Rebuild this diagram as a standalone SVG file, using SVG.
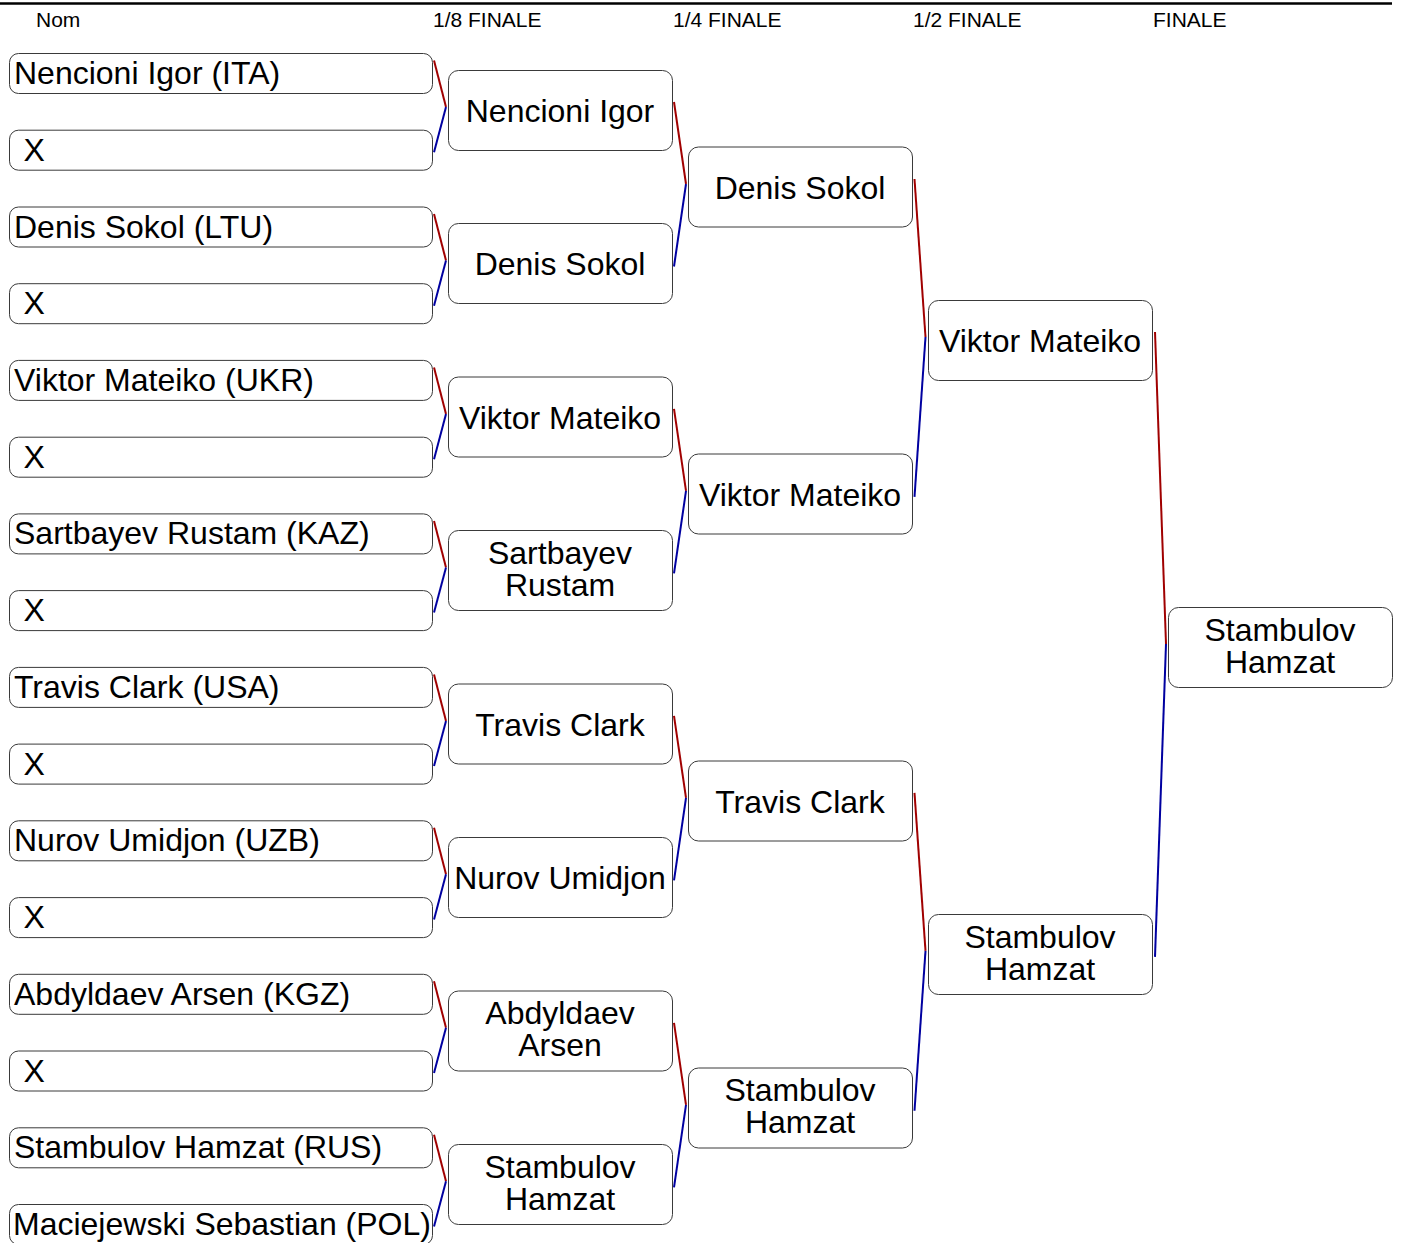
<svg xmlns="http://www.w3.org/2000/svg" width="1407" height="1243" viewBox="0 0 1407 1243">
<style>
.bg{fill:#ffffff}
.hdr{font-family:"Liberation Sans",Arial,sans-serif;font-size:21px;fill:#000}
.b0{fill:#fff;stroke:#3a3a3a;stroke-width:1}
.b1{fill:#fff;stroke:#3a3a3a;stroke-width:1}
.t0{font-family:"Liberation Sans",Arial,sans-serif;font-size:32px;fill:#000}
.t1{font-family:"Liberation Sans",Arial,sans-serif;font-size:32px;fill:#000;text-anchor:middle}
.r{stroke:#a00000;stroke-width:2;fill:none}
.u{stroke:#0000a0;stroke-width:2;fill:none}
</style>
<rect class="bg" x="0" y="0" width="1407" height="1243"/>
<line x1="0" y1="3.5" x2="1392" y2="3.5" stroke="#000" stroke-width="2.5"/>
<g id="headers">
<text class="hdr" x="36" y="26.5">Nom</text>
<text class="hdr" x="433" y="26.5">1/8 FINALE</text>
<text class="hdr" x="673" y="26.5">1/4 FINALE</text>
<text class="hdr" x="913" y="26.5">1/2 FINALE</text>
<text class="hdr" x="1153" y="26.5">FINALE</text>
</g>
<g id="connectors">
<polyline class="r" points="434,60.5 446,107"/><polyline class="u" points="446,107 434,152.2"/>
<polyline class="r" points="434,214 446,260.5"/><polyline class="u" points="446,260.5 434,305.7"/>
<polyline class="r" points="434,367.4 446,413.9"/><polyline class="u" points="446,413.9 434,459.2"/>
<polyline class="r" points="434,520.9 446,567.4"/><polyline class="u" points="446,567.4 434,612.6"/>
<polyline class="r" points="434,674.4 446,720.9"/><polyline class="u" points="446,720.9 434,766.1"/>
<polyline class="r" points="434,827.8 446,874.3"/><polyline class="u" points="446,874.3 434,919.6"/>
<polyline class="r" points="434,981.3 446,1027.8"/><polyline class="u" points="446,1027.8 434,1073"/>
<polyline class="r" points="434,1134.8 446,1181.3"/><polyline class="u" points="446,1181.3 434,1226.5"/>
<polyline class="r" points="674,102 686,184"/><polyline class="u" points="686,184 674,266.5"/>
<polyline class="r" points="674,408.9 686,490.9"/><polyline class="u" points="686,490.9 674,573.4"/>
<polyline class="r" points="674,715.9 686,797.9"/><polyline class="u" points="686,797.9 674,880.4"/>
<polyline class="r" points="674,1022.8 686,1104.8"/><polyline class="u" points="686,1104.8 674,1187.3"/>
<polyline class="r" points="914.5,179 925.5,337"/><polyline class="u" points="925.5,337 914.5,496.9"/>
<polyline class="r" points="914.5,792.9 925.5,950.9"/><polyline class="u" points="925.5,950.9 914.5,1110.8"/>
<polyline class="r" points="1155,332 1166,644"/><polyline class="u" points="1166,644 1155,956.9"/>
</g>
<g id="r0-0"><rect class="b0" x="9.5" y="53.5" width="423" height="40" rx="9"/><text class="t0" x="14" y="84">Nencioni Igor (ITA)</text></g>
<g id="r0-1"><rect class="b0" x="9.5" y="130.2" width="423" height="40" rx="9"/><text class="t0" x="23.5" y="160.7">X</text></g>
<g id="r0-2"><rect class="b0" x="9.5" y="207" width="423" height="40" rx="9"/><text class="t0" x="14" y="237.5">Denis Sokol (LTU)</text></g>
<g id="r0-3"><rect class="b0" x="9.5" y="283.7" width="423" height="40" rx="9"/><text class="t0" x="23.5" y="314.2">X</text></g>
<g id="r0-4"><rect class="b0" x="9.5" y="360.4" width="423" height="40" rx="9"/><text class="t0" x="14" y="390.9">Viktor Mateiko (UKR)</text></g>
<g id="r0-5"><rect class="b0" x="9.5" y="437.2" width="423" height="40" rx="9"/><text class="t0" x="23.5" y="467.7">X</text></g>
<g id="r0-6"><rect class="b0" x="9.5" y="513.9" width="423" height="40" rx="9"/><text class="t0" x="14" y="544.4">Sartbayev Rustam (KAZ)</text></g>
<g id="r0-7"><rect class="b0" x="9.5" y="590.6" width="423" height="40" rx="9"/><text class="t0" x="23.5" y="621.1">X</text></g>
<g id="r0-8"><rect class="b0" x="9.5" y="667.4" width="423" height="40" rx="9"/><text class="t0" x="14" y="697.9">Travis Clark (USA)</text></g>
<g id="r0-9"><rect class="b0" x="9.5" y="744.1" width="423" height="40" rx="9"/><text class="t0" x="23.5" y="774.6">X</text></g>
<g id="r0-10"><rect class="b0" x="9.5" y="820.8" width="423" height="40" rx="9"/><text class="t0" x="14" y="851.3">Nurov Umidjon (UZB)</text></g>
<g id="r0-11"><rect class="b0" x="9.5" y="897.6" width="423" height="40" rx="9"/><text class="t0" x="23.5" y="928.1">X</text></g>
<g id="r0-12"><rect class="b0" x="9.5" y="974.3" width="423" height="40" rx="9"/><text class="t0" x="14" y="1004.8">Abdyldaev Arsen (KGZ)</text></g>
<g id="r0-13"><rect class="b0" x="9.5" y="1051" width="423" height="40" rx="9"/><text class="t0" x="23.5" y="1081.5">X</text></g>
<g id="r0-14"><rect class="b0" x="9.5" y="1127.8" width="423" height="40" rx="9"/><text class="t0" x="14" y="1158.3">Stambulov Hamzat (RUS)</text></g>
<g id="r0-15"><rect class="b0" x="9.5" y="1204.5" width="423" height="40" rx="9"/><text class="t0" x="13" y="1235">Maciejewski Sebastian (POL)</text></g>
<g id="r1-0"><rect class="b1" x="448.5" y="70.5" width="224" height="80" rx="10"/><text class="t1" x="560" y="122">Nencioni Igor</text></g>
<g id="r1-1"><rect class="b1" x="448.5" y="223.5" width="224" height="80" rx="10"/><text class="t1" x="560" y="275">Denis Sokol</text></g>
<g id="r1-2"><rect class="b1" x="448.5" y="377" width="224" height="80" rx="10"/><text class="t1" x="560" y="428.5">Viktor Mateiko</text></g>
<g id="r1-3"><rect class="b1" x="448.5" y="530.5" width="224" height="80" rx="10"/><text class="t1" x="560" y="563.5">Sartbayev</text><text class="t1" x="560" y="595.5">Rustam</text></g>
<g id="r1-4"><rect class="b1" x="448.5" y="684" width="224" height="80" rx="10"/><text class="t1" x="560" y="735.5">Travis Clark</text></g>
<g id="r1-5"><rect class="b1" x="448.5" y="837.5" width="224" height="80" rx="10"/><text class="t1" x="560" y="889">Nurov Umidjon</text></g>
<g id="r1-6"><rect class="b1" x="448.5" y="991" width="224" height="80" rx="10"/><text class="t1" x="560" y="1024">Abdyldaev</text><text class="t1" x="560" y="1056">Arsen</text></g>
<g id="r1-7"><rect class="b1" x="448.5" y="1144.5" width="224" height="80" rx="10"/><text class="t1" x="560" y="1177.5">Stambulov</text><text class="t1" x="560" y="1209.5">Hamzat</text></g>
<g id="r2-0"><rect class="b1" x="688.5" y="147" width="224" height="80" rx="10"/><text class="t1" x="800" y="198.5">Denis Sokol</text></g>
<g id="r2-1"><rect class="b1" x="688.5" y="454" width="224" height="80" rx="10"/><text class="t1" x="800" y="505.5">Viktor Mateiko</text></g>
<g id="r2-2"><rect class="b1" x="688.5" y="761" width="224" height="80" rx="10"/><text class="t1" x="800" y="812.5">Travis Clark</text></g>
<g id="r2-3"><rect class="b1" x="688.5" y="1068" width="224" height="80" rx="10"/><text class="t1" x="800" y="1101">Stambulov</text><text class="t1" x="800" y="1133">Hamzat</text></g>
<g id="r3-0"><rect class="b1" x="928.5" y="300.5" width="224" height="80" rx="10"/><text class="t1" x="1040" y="352">Viktor Mateiko</text></g>
<g id="r3-1"><rect class="b1" x="928.5" y="914.5" width="224" height="80" rx="10"/><text class="t1" x="1040" y="947.5">Stambulov</text><text class="t1" x="1040" y="979.5">Hamzat</text></g>
<g id="r4-0"><rect class="b1" x="1168.5" y="607.5" width="224" height="80" rx="10"/><text class="t1" x="1280" y="640.5">Stambulov</text><text class="t1" x="1280" y="672.5">Hamzat</text></g>
</svg>
